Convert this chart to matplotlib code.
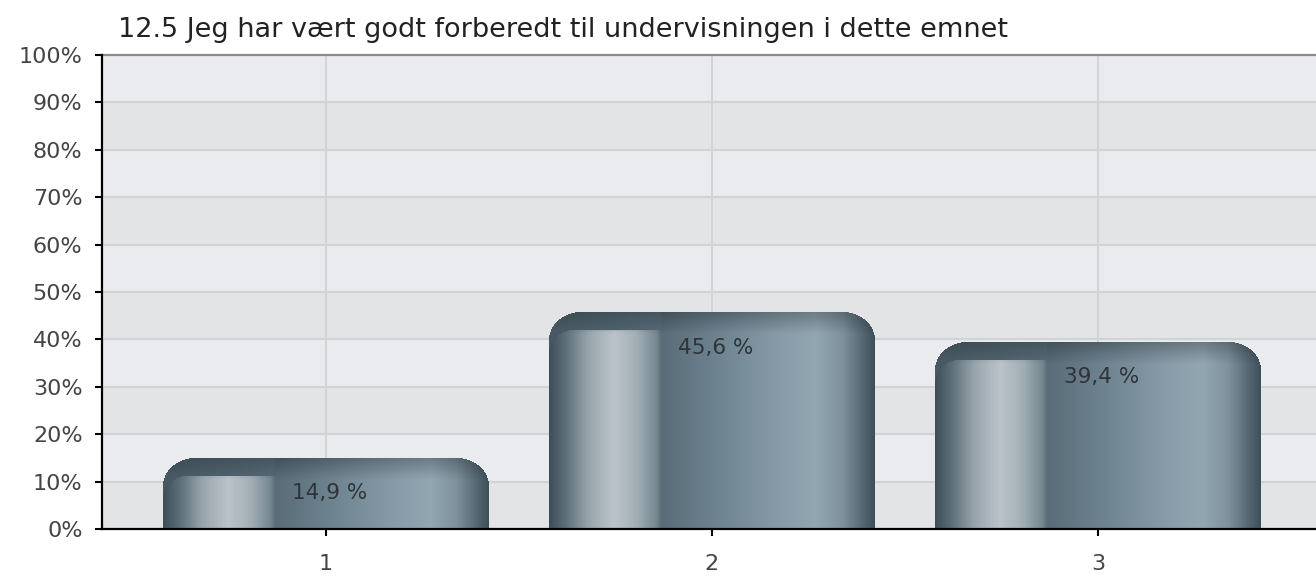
import numpy as np
import matplotlib
matplotlib.use('Agg')
import matplotlib.pyplot as plt
from matplotlib.colors import to_rgb

title = 'Jeg har vært godt forberedt til undervisningen i dette emnet'
question_nr = '12.5'
categories = ['1', '2', '3']
values = [14.9, 45.6, 39.4]
value_labels = ['14,9 %', '45,6 %', '39,4 %']
y_ticks = [0, 10, 20, 30, 40, 50, 60, 70, 80, 90, 100]

plt.rcParams['font.family'] = ['DejaVu Sans']

fig = plt.figure(figsize=(13.16, 5.77), dpi=100)
ax = fig.add_axes([102 / 1316, 48 / 577, 1 - 102 / 1316, (529 - 55) / 577])

x = np.arange(1, len(categories) + 1)
ax.set_xlim(0.42, 3.565)
ax.set_ylim(0, 100)

# background bands, alternating
for i, lo in enumerate(y_ticks[:-1]):
    col = '#e9ebee' if (len(y_ticks) - 2 - i) % 2 == 0 else '#e3e4e6'
    ax.axhspan(lo, lo + 10, color=col, zorder=0, lw=0)
for t in y_ticks[1:-1]:
    ax.axhline(t, color='#d2d3d5', lw=1.6, zorder=1)
for xi in x:
    ax.axvline(xi, color='#d2d3d5', lw=1.4, zorder=1)

# colour stops across a bar (fraction of width -> colour)
stops = [(0.0, '#3d4e58'), (0.05, '#5c6e78'), (0.12, '#98a4ac'), (0.20, '#bcc4cb'),
         (0.27, '#a2aeb6'), (0.33, '#75878f'), (0.345, '#596c77'), (0.50, '#6c818e'),
         (0.70, '#869ba7'), (0.82, '#93a7b3'), (0.90, '#7e919c'), (0.96, '#566974'),
         (1.0, '#3d4e58')]
stop_pos = np.array([s[0] for s in stops])
stop_col = np.array([to_rgb(s[1]) for s in stops])

bar_w = 0.842
fig.canvas.draw()


def bar_image(w_px, h_px):
    W, H = int(round(w_px)), max(int(round(h_px)), 2)
    fx = (np.arange(W) + 0.5) / W
    base = np.stack([np.interp(fx, stop_pos, stop_col[:, k]) for k in range(3)], axis=1)
    img = np.ones((H, W, 4))
    img[:, :, :3] = base[None, :, :]
    px = np.arange(W)[None, :] + 0.5
    py = np.arange(H)[:, None] + 0.5
    # darker shading at the top of the bar
    shade = 0.74 + 0.26 * np.clip(py / 22.0, 0, 1)
    img[:, :, :3] *= shade[:, :, None]
    # dark band above the left highlight, with a rounded inner corner
    left_w = 0.345 * W
    inset = 18.0
    r2 = 24.0
    dark = np.array(to_rgb('#4f626d'))
    in_left = px < left_w
    above = py < inset
    corner = (px < r2) & (py < inset + r2) & (((px - r2) ** 2 + (py - inset - r2) ** 2) > r2 ** 2)
    mask_dark = in_left & (above | corner)
    grad = 0.9 + 0.15 * np.clip(px / left_w, 0, 1)
    dark_img = dark[None, None, :] * grad[:, :, None] * np.ones((H, 1, 1))
    dark_img = dark_img * (0.85 + 0.15 * np.clip(py / inset, 0, 1))[:, :, None]
    img[:, :, :3] = np.where(mask_dark[:, :, None], dark_img, img[:, :, :3])
    # rounded top corners
    rx, ry = 32.0, 28.0
    cx_l, cx_r, cy = rx, W - rx, ry
    out_l = (px < cx_l) & (py < cy) & (((px - cx_l) / rx) ** 2 + ((py - cy) / ry) ** 2 > 1)
    out_r = (px > cx_r) & (py < cy) & (((px - cx_r) / rx) ** 2 + ((py - cy) / ry) ** 2 > 1)
    img[:, :, 3] = np.where(out_l | out_r, 0.0, 1.0)
    return np.clip(img, 0, 1)


for xi, v, lab in zip(x, values, value_labels):
    x0, x1 = xi - bar_w / 2, xi + bar_w / 2
    p0 = ax.transData.transform((x0, 0))
    p1 = ax.transData.transform((x1, v))
    img = bar_image(p1[0] - p0[0], p1[1] - p0[1])
    ax.imshow(img, extent=(x0, x1, 0, v), aspect='auto', interpolation='bilinear',
              zorder=3, origin='upper')
    ax.annotate(lab, (xi, v), xytext=(4, -35), textcoords='offset pixels',
                ha='center', va='center', fontsize=15.5, color='#2e3438', zorder=5)

ax.set_xlim(0.42, 3.565)
ax.set_ylim(0, 100)
ax.set_xticks(x)
ax.set_xticklabels(categories)
ax.set_yticks(y_ticks)
ax.set_yticklabels([f'{t}%' for t in y_ticks])
ax.tick_params(axis='both', length=5, width=1.5, color='black', labelcolor='#444444',
               labelsize=16, direction='out')
ax.tick_params(axis='y', pad=9)
ax.tick_params(axis='x', pad=13)
for s in ['left', 'bottom']:
    ax.spines[s].set_color('black')
    ax.spines[s].set_linewidth(1.6)
    ax.spines[s].set_zorder(6)
ax.spines['top'].set_color('#8a8a8a')
ax.spines['top'].set_linewidth(1.6)
ax.spines['right'].set_visible(False)

fig.text(118 / 1316, 1 - 30 / 577, f'{question_nr} {title}', fontsize=19.5, color='#222222',
         ha='left', va='center')

fig.savefig('out.png', dpi=100)
